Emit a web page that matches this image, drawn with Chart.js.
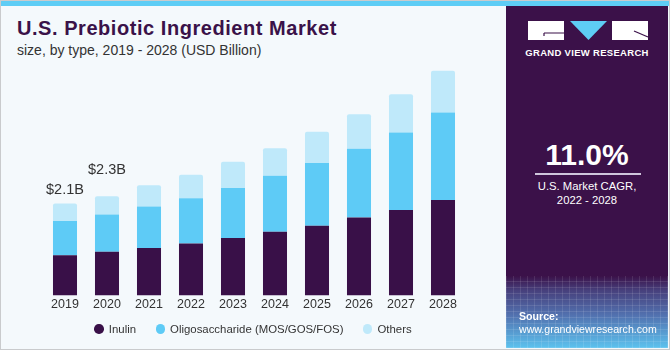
<!DOCTYPE html>
<html>
<head>
<meta charset="utf-8">
<script src="https://cdn.jsdelivr.net/npm/chart.js@4.4.1/dist/chart.umd.min.js"></script>
<style>
  body { margin: 0; }
  #frame {
    position: relative; width: 668px; height: 348px; overflow: hidden;
    background: #f4f9fc; border: 1px solid #c9cbcd;
    font-family: "Liberation Sans", Arial, sans-serif;
  }
  #strip { position: absolute; left: 0; top: 0; width: 668px; height: 5px; background: #5ecdf5; }
  #title {
    position: absolute; left: 16px; top: 16px; font-size: 20px; font-weight: bold;
    letter-spacing: 0.55px; color: #3a1249; white-space: nowrap;
  }
  #subtitle { position: absolute; left: 16px; top: 41px; font-size: 14px; color: #333; white-space: nowrap; }
  #costChart { position: absolute; left: 0; top: 0; }
  #legend {
    position: absolute; left: 42px; width: 420px; top: 319px; height: 18px;
    display: flex; justify-content: center; align-items: center; gap: 19.5px;
    font-size: 11.4px; color: #333;
  }
  #legend span.item { display: flex; align-items: center; white-space: nowrap; }
  #legend i { display: inline-block; width: 9.5px; height: 9.5px; border-radius: 50%; margin-right: 5px; }
  #panel {
    position: absolute; left: 505px; top: 5px; width: 162px; height: 342px;
    background: #3b1149; color: #fff; overflow: hidden;
  }
  #panel .t { position: absolute; left: 0; width: 162px; text-align: center; white-space: nowrap; }
  #brand { top: 41px; font-size: 9.5px; font-weight: bold; letter-spacing: 0.3px; }
  #cagr { top: 132px; font-size: 30px; font-weight: bold; }
  #rule { position: absolute; left: 29px; width: 106px; top: 167px; height: 1.5px; background: #cfc6dc; }
  .sub { font-size: 11.3px; }
  #foot {
    position: absolute; left: 0; bottom: 0; width: 162px; height: 72px;
    background:
      repeating-linear-gradient(90deg, rgba(255,255,255,0.10) 0 1px, transparent 1px 7px),
      repeating-linear-gradient(0deg, rgba(255,255,255,0.10) 0 1px, transparent 1px 6px),
      linear-gradient(180deg, #3b1149 0%, #47407c 20%, #5272b0 55%, #5cc2ee 100%);
  }
  #source { position: absolute; left: 13px; top: 304px; font-size: 10.6px; line-height: 13px; }
</style>
</head>
<body>
<div id="frame">
  <div id="strip"></div>
  <div id="title">U.S. Prebiotic Ingredient Market</div>
  <div id="subtitle">size, by type, 2019 - 2028 (USD Billion)</div>
  <canvas id="costChart" width="505" height="320"></canvas>
  <div id="legend"></div>
  <div id="panel">
    <svg style="position:absolute;left:0;top:0" width="162" height="40">
      <rect x="22" y="15" width="36" height="19" fill="#fff"/>
      <path d="M38 27 H58 M38 27 V30" stroke="#3b1149" stroke-width="1.2" fill="none"/>
      <polygon points="64,15 101,15 82.5,34" fill="#5ecdf5"/>
      <rect x="106" y="15" width="36" height="19" fill="#fff"/>
      <path d="M128 25 L142 31" stroke="#3b1149" stroke-width="1.2"/>
    </svg>
    <div class="t" id="brand">GRAND VIEW RESEARCH</div>
    <div class="t" id="cagr">11.0%</div>
    <div id="rule"></div>
    <div class="t sub" style="top:174px">U.S. Market CAGR,</div>
    <div class="t sub" style="top:188px">2022 - 2028</div>
    <div id="foot"></div>
    <div id="source"><b>Source:</b><br>www.grandviewresearch.com</div>
  </div>
</div>
<script>
const years = ["2019", "2020", "2021", "2022", "2023", "2024", "2025", "2026", "2027", "2028"];
const inulin = [0.92, 1.00, 1.09, 1.19, 1.32, 1.46, 1.60, 1.79, 1.96, 2.19];
const oligosaccharide = [0.79, 0.86, 0.95, 1.04, 1.15, 1.29, 1.44, 1.58, 1.78, 2.01];
const others = [0.40, 0.42, 0.49, 0.54, 0.60, 0.63, 0.72, 0.79, 0.88, 0.96];
const totalLabels = ["$2.1B", "$2.3B"];

const seriesNames = ["Inulin", "Oligosaccharide (MOS/GOS/FOS)", "Others"];
const seriesColors = ["#391048", "#5ecbf6", "#bfe9fa"];

document.getElementById("legend").innerHTML = seriesNames.map((name, i) =>
  `<span class="item"><i style="background:${seriesColors[i]}"></i>${name}</span>`).join("");

// totals printed above the first bars
const totalLabelPlugin = {
  id: "totalLabels",
  afterDatasetsDraw(chart, args, opts) {
    const meta = chart.getDatasetMeta(2);
    const c = chart.ctx;
    c.save();
    c.font = "14.5px 'Liberation Sans'";
    c.fillStyle = "#333";
    c.textAlign = "center";
    c.textBaseline = "middle";
    totalLabels.forEach((t, i) => {
      const bar = meta.data[i];
      c.fillText(t, bar.x, bar.y - opts.offsets[i]);
    });
    c.restore();
  }
};

Chart.defaults.font.family = "'Liberation Sans', Arial, sans-serif";

const ctx = document.getElementById("costChart").getContext("2d");
new Chart(ctx, {
  type: "bar",
  data: {
    labels: years,
    datasets: [
      { label: seriesNames[0], data: inulin, backgroundColor: seriesColors[0] },
      { label: seriesNames[1], data: oligosaccharide, backgroundColor: seriesColors[1] },
      { label: seriesNames[2], data: others, backgroundColor: seriesColors[2],
        borderRadius: { topLeft: 2, topRight: 2 }, borderSkipped: "bottom" }
    ]
  },
  options: {
    responsive: false,
    animation: false,
    devicePixelRatio: 1,
    layout: { padding: { left: 43, right: 42, top: 55, bottom: 6.6 } },
    datasets: { bar: { categoryPercentage: 1, barPercentage: 0.572 } },
    scales: {
      x: {
        stacked: true,
        grid: { display: false, drawTicks: false },
        border: { display: false },
        ticks: { color: "#333", font: { size: 12.5 }, padding: 2 }
      },
      y: { stacked: true, display: false, min: 0, max: 5.5 }
    },
    plugins: {
      legend: { display: false },
      tooltip: { enabled: false },
      totalLabels: { offsets: [14, 26] }
    }
  },
  plugins: [totalLabelPlugin]
});
</script>
</body>
</html>
